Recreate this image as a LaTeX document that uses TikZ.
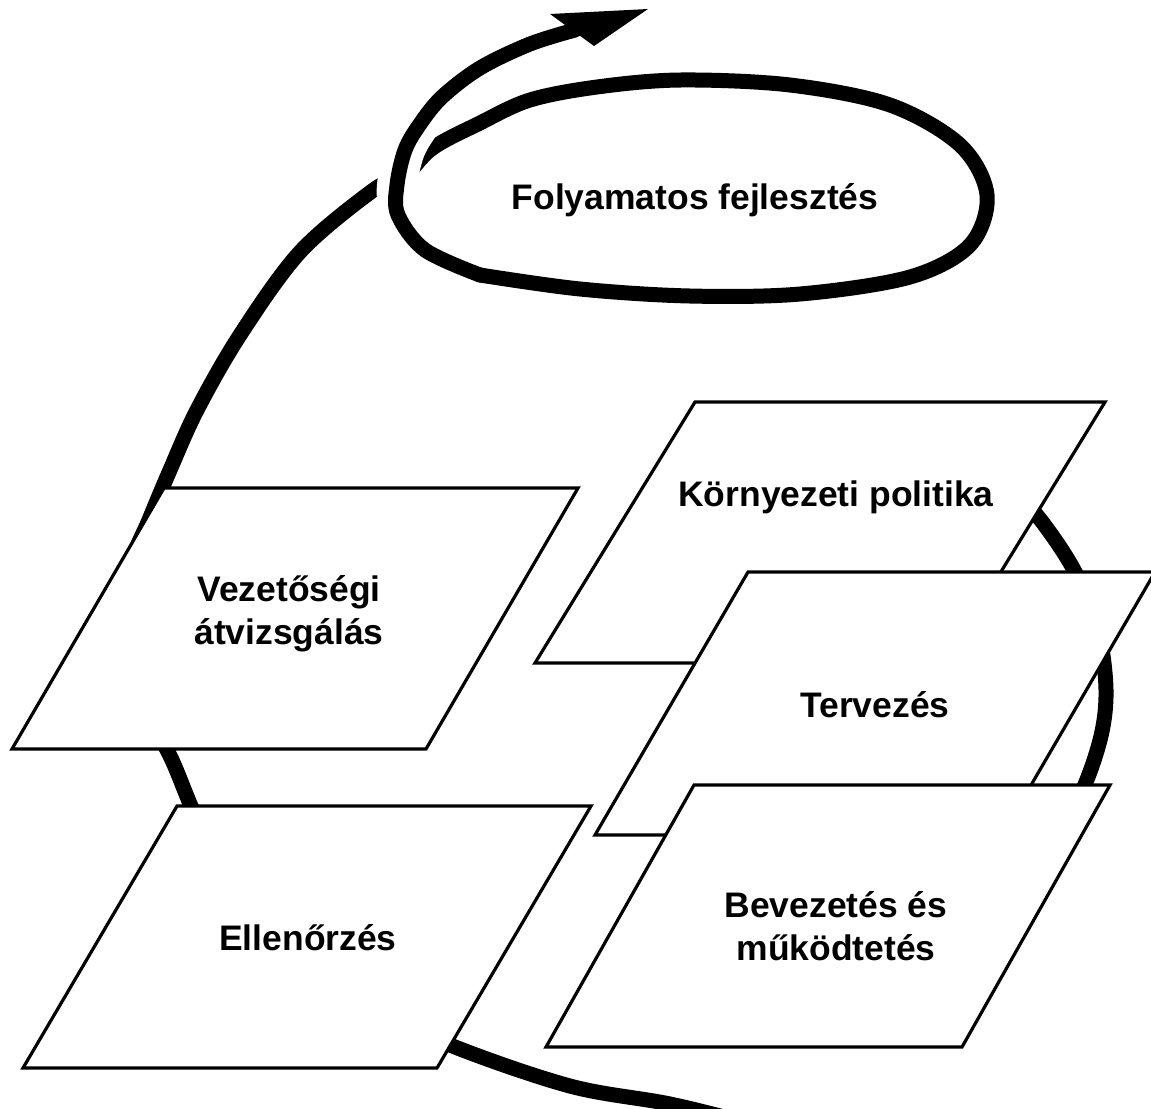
\documentclass[tikz,border=0pt]{standalone}
\usepackage{fontspec}
\setmainfont{Liberation Sans}
\begin{document}
\begin{tikzpicture}[x=0.75pt,y=-0.75pt,
  loop/.style={line width=11.25pt, line cap=round, line join=round},
  halo/.style={line width=30pt, white, line cap=butt},
  box/.style={fill=white, draw=black, line width=2.4pt, line join=miter},
  lbl/.style={font=\fontsize{26.6}{32}\selectfont\bfseries, align=center, inner sep=0pt}]

\useasboundingbox (0,0) rectangle (1151,1108);
\clip (0,0) rectangle (1151,1108);

% large cycle, left and lower part (runs out below the frame)
\draw[loop] plot[smooth, tension=0.55] coordinates {
  (402,176) (372,191) (300,252) (240,335) (197,410) (170,470) (149,520)
  (133,560) (127,620) (140,695) (172,760) (205,835) (265,922) (350,998)
  (450,1045) (570,1086) (670,1104) (760,1126) (860,1150)};
% large cycle, right part (hidden behind the boxes at both ends)
\draw[loop] plot[smooth, tension=0.55] coordinates {
  (930,1000) (990,930) (1040,860) (1078,800) (1100,740) (1106,690)
  (1098,630) (1075,572) (1043,523) (1010,485)};

% inner loop around the improvement ellipse
\draw[loop] plot[smooth, tension=0.55] coordinates {
  (400,186) (430,150) (480,123) (530,100) (597,87) (680,80) (790,85)
  (890,105) (960,145) (987,195) (970,245) (910,277) (800,294) (690,296)
  (580,289) (480,275)};

% outgoing branch with the arrow, crossing over the loop start
\draw[halo] plot[smooth, tension=0.55] coordinates {
  (398,215) (397,185) (405,150) (420,124) (442,97)};
\draw[loop] plot[smooth, tension=0.55] coordinates {
  (480,275) (425,250) (398,215) (397,185) (405,150) (420,124) (442,97)
  (480,68) (530,44) (575,30)};
\fill (550,14) -- (648,9) -- (594,46) -- cycle;

\node[lbl] (fejl) at (695,200) {Folyamatos fejlesztés};

% process steps
\filldraw[box] (12,749) -- (426,749) -- (578,488) -- (164,488) -- cycle;
\node[lbl] (atv) at (289,614) {Vezetőségi\\átvizsgálás};

\filldraw[box] (23,1068) -- (437,1068) -- (591,806) -- (177,806) -- cycle;
\node[lbl] (ell) at (308,938) {Ellenőrzés};

\filldraw[box] (535,663) -- (945,663) -- (1105,402) -- (695,402) -- cycle;
\node[lbl] (pol) at (836,497) {Környezeti politika};

\filldraw[box] (595,835) -- (1002,835) -- (1155,572) -- (748,572) -- cycle;
\node[lbl] (terv) at (875,705) {Tervezés};

\filldraw[box] (546,1047) -- (962,1047) -- (1110,785) -- (694,785) -- cycle;
\node[lbl] (bev) at (836,926) {Bevezetés és\\működtetés};

\end{tikzpicture}
\end{document}
